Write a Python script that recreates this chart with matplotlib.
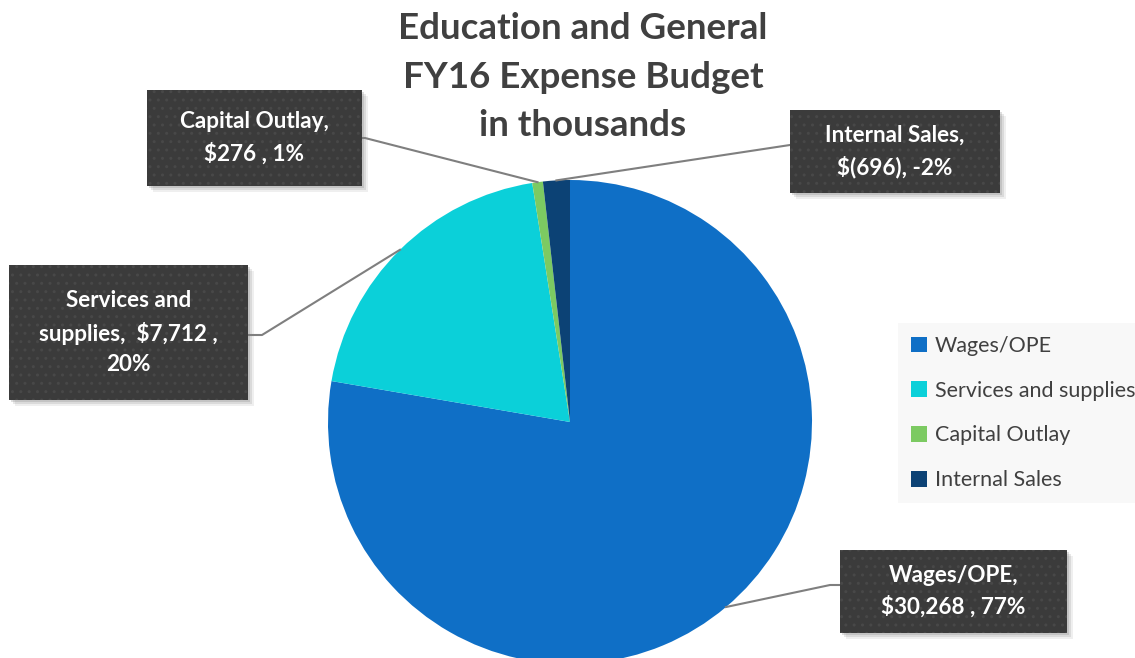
import numpy as np
import matplotlib.pyplot as plt
from matplotlib.patches import Rectangle

# data (thousands of dollars)
names = ["Wages/OPE", "Services and supplies", "Capital Outlay", "Internal Sales"]
values = [30268, 7712, 276, -696]
colors = ["#0f6fc6", "#0bd0d9", "#7cca62", "#0c4275"]
box_text = ["Wages/OPE,\n$30,268 , 77%",
            "Services and\nsupplies,  $7,712 ,\n20%",
            "Capital Outlay,\n$276 , 1%",
            "Internal Sales,\n$(696), -2%"]

W, H = 1135, 658
fig = plt.figure(figsize=(W / 100, H / 100), dpi=100)
ax = fig.add_axes([0, 0, 1, 1])

# pie drawn in pixel-like coords (y up)
cx, cy, r = 570, H - 422, 242
wedges, _ = ax.pie(np.abs(values), colors=colors, startangle=90, counterclock=False,
                   center=(cx, cy), radius=r, wedgeprops=dict(linewidth=0))
ax.set_xlim(0, W)
ax.set_ylim(0, H)
ax.set_aspect("equal")
ax.axis("off")

# label boxes: (left, top, right, bottom) in pixels, and where the leader meets the box
boxes = [(840, 550, 1067, 633), (9, 265, 248, 400), (147, 90, 362, 186), (790, 110, 1000, 193)]
attach = [(830, 585), (262, 335), (365, 138), (790, 145)]

for i, w in enumerate(wedges):
    ang = np.deg2rad((w.theta1 + w.theta2) / 2)
    px, py = cx + r * np.cos(ang), cy + r * np.sin(ang)
    x0, y0, x1, y1 = boxes[i]
    ax_x, ax_y = attach[i]
    side = x0 if ax_x < x0 + 5 else x1
    if i == 0:
        side = x0
    ax.plot([px, ax_x, side], [py, H - ax_y, H - ax_y], color="#7f7f7f", lw=1.5, zorder=3)
    # shadow
    for k, a in zip([6, 4, 2], [0.12, 0.18, 0.25]):
        ax.add_patch(Rectangle((x0 + k, H - y1 - k), x1 - x0, y1 - y0, facecolor="#808080",
                               edgecolor="none", alpha=a, zorder=4))
    ax.add_patch(Rectangle((x0, H - y1), x1 - x0, y1 - y0, facecolor="#3b3b3b",
                           edgecolor="#484848", hatch="..", lw=0, zorder=5))
    ax.text((x0 + x1) / 2, H - (y0 + y1) / 2, box_text[i], color="white", fontsize=16.2,
            fontweight="bold", family="Lato", ha="center", va="center", linespacing=1.55,
            zorder=6)

ax.text(583, H - 77, "Education and General\nFY16 Expense Budget\nin thousands",
        ha="center", va="center", fontsize=26.5, fontweight="bold", family="Lato",
        color="#404040", linespacing=1.58, zorder=6)

leg = ax.legend(wedges, names, loc="upper left", bbox_to_anchor=(898 / W, 1 - 323 / H),
                bbox_transform=fig.transFigure, frameon=True, fancybox=False,
                facecolor="#f8f8f8", edgecolor="none", framealpha=1,
                prop=dict(family="Lato", size=15.5), labelspacing=1.15,
                handlelength=0.75, handleheight=0.75, handletextpad=0.35, borderpad=0.6,
                borderaxespad=0)
for t in leg.get_texts():
    t.set_color("#404040")

fig.savefig("out.png", dpi=100)
